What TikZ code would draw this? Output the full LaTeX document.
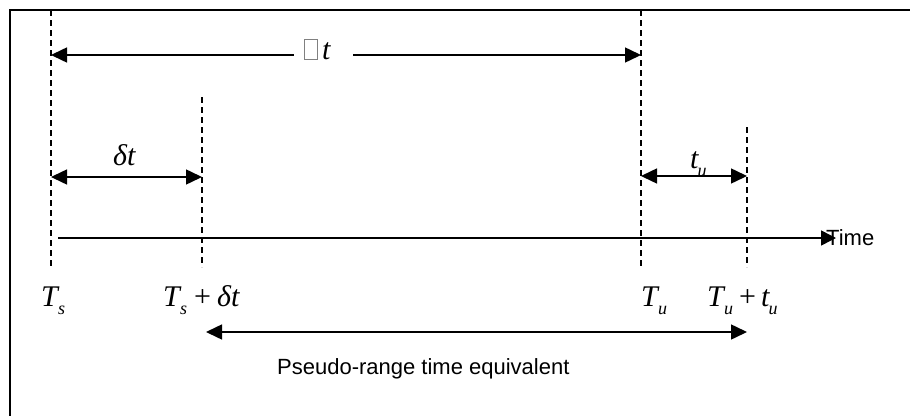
\documentclass[tikz,border=0pt]{standalone}
\usepackage{fontspec}
\setmainfont{Liberation Serif}
\newfontfamily\arialfont{Liberation Sans}
\usetikzlibrary{arrows.meta}
\newcommand{\msub}[2]{\textit{#1}\kern-1.5pt\raisebox{-8pt}{\fontsize{18}{18}\selectfont\textit{#2}}}
\newcommand{\missingbox}{\textcolor{gray}{\fboxsep=0pt\fboxrule=0.8pt\fbox{\rule{0pt}{19pt}\hspace{12.4pt}}}}
\begin{document}
\begin{tikzpicture}[x=1pt,y=-1pt,
  frame/.style={line width=1.5pt},
  guide/.style={dash pattern=on 6pt off 4pt, line width=1.3pt},
  dim/.style={line width=1.5pt, {Triangle[length=16pt,width=15pt]}-{Triangle[length=16pt,width=15pt]}},
  halfl/.style={line width=1.5pt, {Triangle[length=16pt,width=15pt]}-},
  halfr/.style={line width=1.5pt, -{Triangle[length=16pt,width=15pt]}},
  axis/.style={line width=1.5pt, -{Triangle[length=15pt,width=15pt]}},
  mlabel/.style={font=\fontsize{30}{30}\selectfont, inner sep=0pt, anchor=base west},
  slabel/.style={font=\arialfont\fontsize{22}{22}\selectfont, inner sep=0pt}]
\useasboundingbox (0,0) rectangle (910,415);
% frame (cropped at right and bottom)
\draw[frame] (10,420) -- (10,10) -- (920,10);
% guide lines
\coordinate (a1) at (51,10);  \coordinate (a2) at (51,267);
\coordinate (b1) at (202,97); \coordinate (b2) at (202,267);
\coordinate (c1) at (641,10); \coordinate (c2) at (641,267);
\coordinate (d1) at (747,127);\coordinate (d2) at (747,267);
\draw[guide] (a1) -- (a2);
\draw[guide] (b1) -- (b2);
\draw[guide] (c1) -- (c2);
\draw[guide] (d1) -- (d2);
% top dimension with label
\coordinate (t1) at (51,55);
\coordinate (t2) at (641,55);
\coordinate (g1) at (294,55);
\coordinate (g2) at (353,55);
\node[mlabel] (Dt) at (304,59) {\missingbox\kern4pt\textit{t}};
\draw[halfl] (t1) -- (g1);
\draw[halfr] (g2) -- (t2);
% delta t
\coordinate (s1) at (51,177);
\coordinate (s2) at (202,177);
\draw[dim] (s1) -- (s2);
\node[mlabel] (dlt) at (113,165) {\textit{δt}};
% t_u
\coordinate (u1) at (641,176);
\coordinate (u2) at (747,176);
\draw[dim] (u1) -- (u2);
\node[mlabel] (tu) at (690,168) {\msub{t}{u}};
% time axis
\coordinate (x0) at (58,238);
\coordinate (x1) at (836,238);
\draw[axis] (x0) -- (x1);
\node[slabel, anchor=west] (time) at (826,238) {Time};
% bottom labels
\node[mlabel] (Ts) at (41,306) {\msub{T}{s}};
\node[mlabel] (Tsd) at (163,306) {\msub{T}{s}\kern7pt+\kern6pt\textit{δt}};
\node[mlabel] (Tu) at (641,306) {\msub{T}{u}};
\node[mlabel] (Tut) at (707,306) {\msub{T}{u}\kern6pt+\kern5pt\msub{t}{u}};
% pseudo-range
\coordinate (p1) at (206,332);
\coordinate (p2) at (747,332);
\draw[dim] (p1) -- (p2);
\node[slabel, anchor=base west] (pr) at (277,374) {Pseudo-range time equivalent};
\end{tikzpicture}
\end{document}
